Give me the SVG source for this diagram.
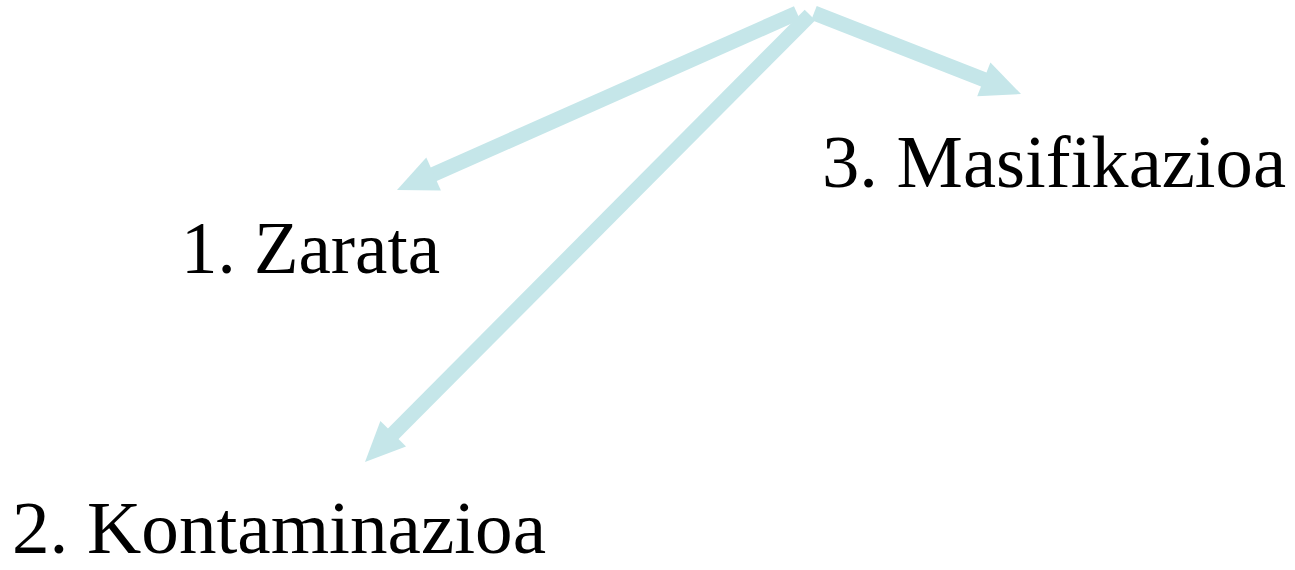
<svg xmlns="http://www.w3.org/2000/svg" width="1295" height="570" viewBox="0 0 1295 570">
<style>
.lbl{font-family:"Liberation Serif","Times New Roman",serif;font-size:73px;fill:#000}
.conn{stroke:#C5E6E9;stroke-width:15;fill:none;stroke-linecap:butt}
.head{fill:#C5E6E9}
</style>
<rect width="1295" height="570" fill="#fff"/>
<g id="connectors">
<line class="conn" x1="797" y1="13" x2="432" y2="175"/>
<polygon class="head" points="397,190 426.3,157.4 440.9,190.4"/>
<line class="conn" x1="810" y1="15" x2="392" y2="435"/>
<polygon class="head" points="365,462 380.4,421 406,446.4"/>
<line class="conn" x1="814" y1="13" x2="985" y2="80"/>
<polygon class="head" points="1021,94 990.4,62.6 977.2,96.2"/>
</g>
<g id="node1"><text class="lbl" x="181" y="273" textLength="259" lengthAdjust="spacingAndGlyphs">1. Zarata</text></g>
<g id="node2"><text class="lbl" x="12" y="553" textLength="534" lengthAdjust="spacingAndGlyphs">2. Kontaminazioa</text></g>
<g id="node3"><text class="lbl" x="822" y="187" textLength="464" lengthAdjust="spacingAndGlyphs">3. Masifikazioa</text></g>
</svg>
